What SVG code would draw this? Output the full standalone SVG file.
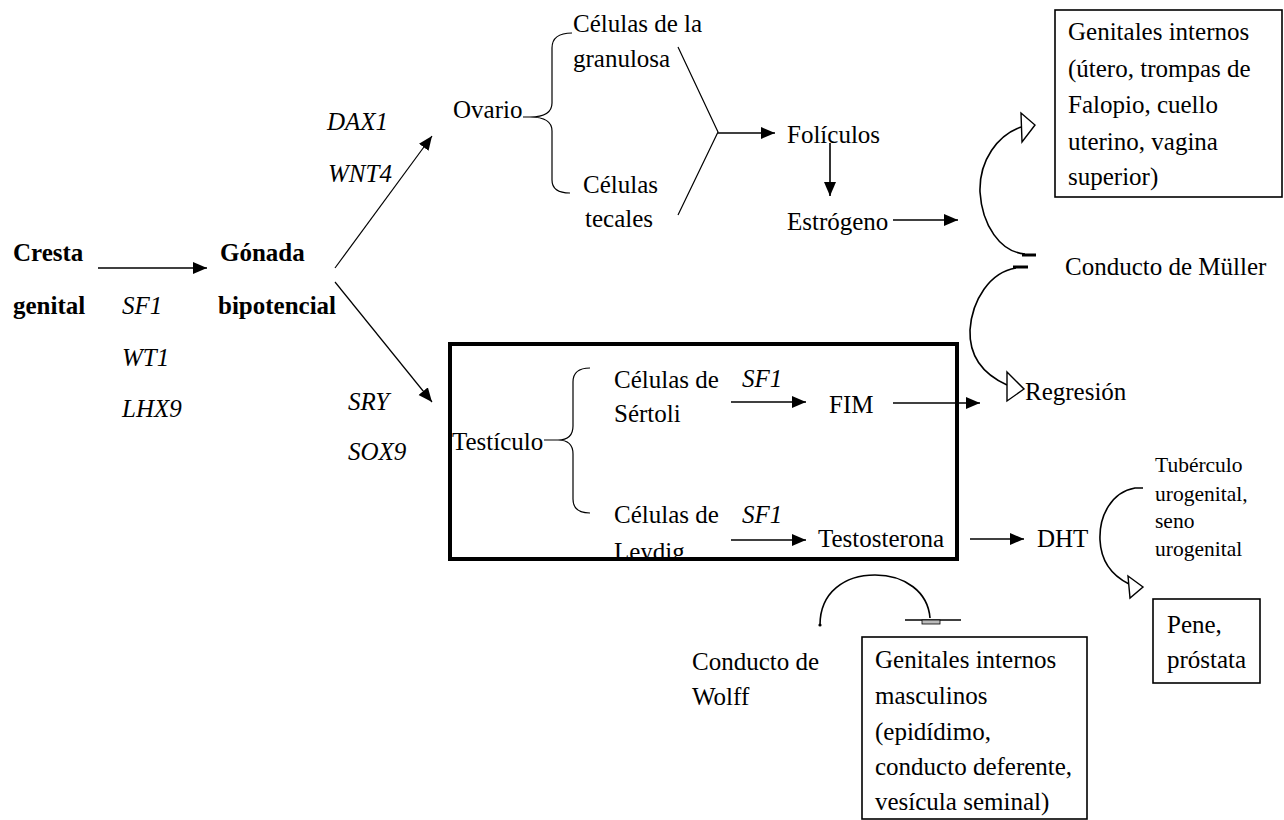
<svg xmlns="http://www.w3.org/2000/svg" width="1284" height="820" viewBox="0 0 1284 820">
<style>
.t{font-family:"Liberation Serif","Times New Roman",serif;font-size:25px;fill:#000}
.b{font-weight:bold}
.i{font-style:italic}
.s{font-size:21.5px}
.ln{stroke:#000;stroke-width:1.6;fill:none}
.thin{stroke:#000;stroke-width:1.2;fill:none}
.cv{stroke:#000;stroke-width:1.6;fill:none}
.hd{fill:#fff;stroke:#000;stroke-width:1.4}
.box{fill:none;stroke:#000;stroke-width:1.6}
</style>
<defs>
<marker id="ah" markerUnits="userSpaceOnUse" markerWidth="15" markerHeight="13" refX="14" refY="6" orient="auto">
<path d="M0,0 L14,6 L0,12 z" fill="#000"/>
</marker>
<clipPath id="clipL"><rect x="448" y="300" width="520" height="260"/></clipPath>
</defs>
<rect width="1284" height="820" fill="#fff"/>

<g id="connectors">
<line class="ln" x1="98" y1="268" x2="207" y2="268" marker-end="url(#ah)"/>
<line class="thin" x1="335" y1="268" x2="432" y2="136" marker-end="url(#ah)"/>
<line class="thin" x1="335" y1="282" x2="432" y2="402" marker-end="url(#ah)"/>
<path class="thin" d="M678,47 L718,132 L678,215"/>
<line class="ln" x1="718" y1="133" x2="775" y2="133" marker-end="url(#ah)"/>
<line class="ln" x1="830" y1="143" x2="830" y2="196" marker-end="url(#ah)"/>
<line class="ln" x1="893" y1="220" x2="958" y2="220" marker-end="url(#ah)"/>
<line class="ln" x1="731" y1="402" x2="806" y2="402" marker-end="url(#ah)"/>
<line class="ln" x1="893" y1="403" x2="980" y2="403" marker-end="url(#ah)"/>
<line class="ln" x1="731" y1="540" x2="806" y2="540" marker-end="url(#ah)"/>
<line class="ln" x1="970" y1="539" x2="1024" y2="539" marker-end="url(#ah)"/>
<!-- Müller upper curve -->
<path class="cv" d="M1025,254 C1000,252 982,225 980,192 C979,160 998,135 1021,127"/>
<line x1="1022" y1="255" x2="1036" y2="255" stroke="#000" stroke-width="3"/>
<polygon class="hd" points="1021,113 1035,125 1022,142"/>
<!-- Müller lower curve -->
<path class="cv" d="M1016,268 C990,272 972,300 970,330 C969,358 985,375 1007,385"/>
<line x1="1013" y1="267" x2="1028" y2="267" stroke="#000" stroke-width="3"/>
<polygon class="hd" points="1007,372 1024,389 1007,401"/>
<!-- DHT curve -->
<path class="cv" d="M1143,488 L1135,488 C1112,492 1099,515 1100,540 C1101,563 1113,576 1129,584"/>
<polygon class="hd" points="1128,576 1143,587 1130,598"/>
<!-- Wolff arc -->
<path class="cv" d="M820,625 C820,592 845,575 875,575 C905,575 928,592 930,618"/>
<circle cx="820" cy="625" r="1.6" fill="#000"/>
<line x1="905" y1="620" x2="961" y2="620" stroke="#000" stroke-width="1.6"/>
<rect x="922" y="620" width="18" height="4" fill="#bbb" stroke="#000" stroke-width="0.8"/>
</g>

<g id="cresta"><text class="t b" x="13" y="261">Cresta</text><text class="t b" x="13" y="314">genital</text></g>
<g id="genes1"><text class="t i" x="122" y="314">SF1</text><text class="t i" x="122" y="366">WT1</text><text class="t i" x="122" y="417">LHX9</text></g>
<g id="gonada"><text class="t b" x="220" y="261">Gónada</text><text class="t b" x="218" y="314">bipotencial</text></g>
<g id="genes2"><text class="t i" x="327" y="130">DAX1</text><text class="t i" x="328" y="182">WNT4</text></g>
<g id="genes3"><text class="t i" x="348" y="410">SRY</text><text class="t i" x="348" y="460">SOX9</text></g>

<g id="ovario">
<text class="t" x="453" y="118">Ovario</text>
<path class="thin" d="M523,117 L530,117 M572,33 Q552,33 552,48 L552,103 Q552,117 530,117 Q552,117 552,131 L552,180 Q552,193 570,193"/>
</g>
<g id="granulosa"><text class="t" x="573" y="32">Células de la</text><text class="t" x="573" y="67">granulosa</text></g>
<g id="tecales"><text class="t" x="583" y="193">Células</text><text class="t" x="585" y="227">tecales</text></g>
<g id="foliculos"><text class="t" x="787" y="143">Folículos</text></g>
<g id="estrogeno"><text class="t" x="787" y="230">Estrógeno</text></g>

<g id="genitales-internos">
<rect class="box" x="1055" y="10" width="227" height="187"/>
<text class="t" x="1068" y="40">Genitales internos</text>
<text class="t" x="1068" y="77">(útero, trompas de</text>
<text class="t" x="1068" y="113">Falopio, cuello</text>
<text class="t" x="1068" y="150">uterino, vagina</text>
<text class="t" x="1068" y="185">superior)</text>
</g>
<g id="muller"><text class="t" x="1065" y="275">Conducto de Müller</text></g>
<g id="regresion"><text class="t" x="1025" y="400">Regresión</text></g>

<g id="testiculo">
<rect x="450" y="344" width="507" height="215" fill="none" stroke="#000" stroke-width="4"/>
<text class="t" x="452" y="450">Testículo</text>
<path class="thin" d="M544,440 L558,440 M590,368 Q573,368 573,382 L573,426 Q573,440 558,440 Q573,440 573,454 L573,499 Q573,513 590,513"/>
</g>
<g id="sertoli"><text class="t" x="614" y="388">Células de</text><text class="t" x="614" y="422">Sértoli</text><text class="t i" x="742" y="387">SF1</text></g>
<g id="fim"><text class="t" x="829" y="413">FIM</text></g>
<g id="leydig"><text class="t" x="614" y="523">Células de</text><text class="t" x="614" y="560" clip-path="url(#clipL)">Leydig</text><text class="t i" x="742" y="523">SF1</text></g>
<g id="testosterona"><text class="t" x="818" y="547">Testosterona</text></g>
<g id="dht"><text class="t" x="1037" y="547">DHT</text></g>
<g id="tuberculo">
<text class="t s" x="1155" y="472">Tubérculo</text>
<text class="t s" x="1155" y="501">urogenital,</text>
<text class="t s" x="1155" y="528">seno</text>
<text class="t s" x="1155" y="556">urogenital</text>
</g>
<g id="pene">
<rect class="box" x="1153" y="599" width="107" height="84"/>
<text class="t" x="1167" y="633">Pene,</text>
<text class="t" x="1167" y="668">próstata</text>
</g>
<g id="wolff"><text class="t" x="692" y="670">Conducto de</text><text class="t" x="692" y="705">Wolff</text></g>
<g id="genitales-masculinos">
<rect class="box" x="862" y="637" width="225" height="182"/>
<text class="t" x="875" y="668">Genitales internos</text>
<text class="t" x="875" y="704">masculinos</text>
<text class="t" x="875" y="740">(epidídimo,</text>
<text class="t" x="875" y="775">conducto deferente,</text>
<text class="t" x="875" y="810">vesícula seminal)</text>
</g>
</svg>
